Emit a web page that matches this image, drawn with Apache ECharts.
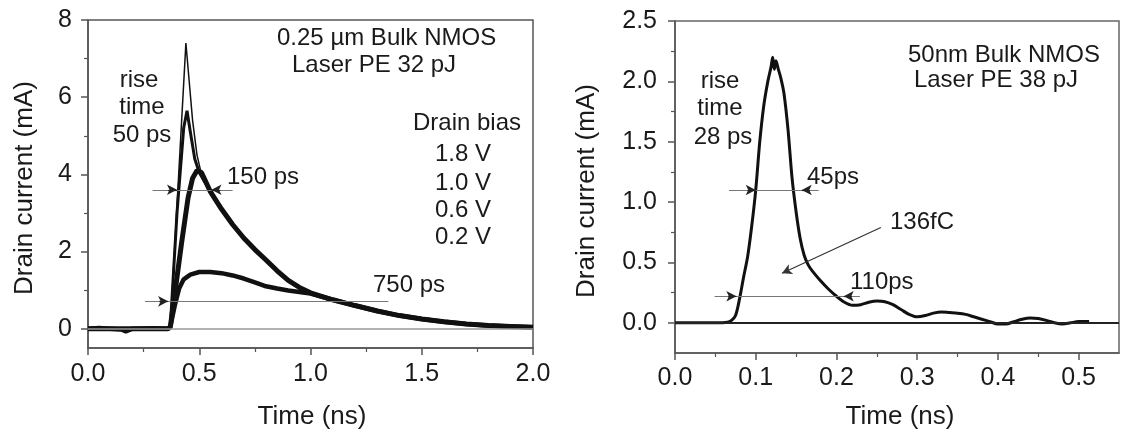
<!DOCTYPE html>
<html><head><meta charset="utf-8">
<script src="https://cdn.jsdelivr.net/npm/echarts@6/dist/echarts.min.js"></script>
<style>html,body{margin:0;padding:0;background:#fff}#c{width:1122px;height:436px}</style>
</head><body><div id="c"></div>
<script>
// ---------- Left panel data (0.25 um bulk NMOS), time in ns, current in mA ----------
const leftT18 = [0, 0.1, 0.17, 0.25, 0.36, 0.37, 0.40, 0.44, 0.455, 0.47, 0.49, 0.51];
const leftI18 = [0, 0.01, -0.05, 0.01, 0, 0.05, 3.2, 7.4, 6.4, 5.4, 4.5, 4.0];
const leftT10 = [0, 0.36, 0.37, 0.40, 0.43, 0.445, 0.46, 0.48, 0.50, 0.52];
const leftI10 = [0, 0, 0.05, 3.0, 5.2, 5.65, 5.1, 4.4, 4.05, 3.85];
const leftT06 = [0, 0.36, 0.37, 0.39, 0.42, 0.45, 0.47, 0.49, 0.51, 0.53];
const leftI06 = [0, 0, 0.05, 0.9, 2.2, 3.4, 3.9, 4.1, 4.05, 3.8];
const leftT02 = [0, 0.05, 0.15, 0.17, 0.2, 0.3, 0.36, 0.37, 0.39, 0.41, 0.43, 0.46, 0.5, 0.55, 0.6, 0.65, 0.7, 0.75, 0.8, 0.85, 0.9, 0.95, 1.0];
const leftI02 = [0, 0.02, -0.02, -0.07, 0, 0.01, 0, 0.05, 0.6, 1.05, 1.28, 1.4, 1.47, 1.47, 1.44, 1.38, 1.3, 1.2, 1.1, 1.04, 0.99, 0.95, 0.91];
// common decay of the 1.8 / 1.0 / 0.6 V traces
const decayT = [0.55, 0.6, 0.65, 0.7, 0.75, 0.8, 0.85, 0.9, 0.95, 1.0, 1.1, 1.2, 1.3, 1.4, 1.5, 1.6, 1.7, 1.8, 1.9, 2.0];
const decayI = [3.55, 3.1, 2.7, 2.35, 2.05, 1.78, 1.5, 1.25, 1.07, 0.93, 0.75, 0.6, 0.46, 0.34, 0.25, 0.18, 0.12, 0.08, 0.06, 0.04];

// ---------- Right panel data (50 nm bulk NMOS) ----------
const rightT = [0, 0.05, 0.065, 0.07, 0.075, 0.08, 0.085, 0.09, 0.095, 0.1, 0.105, 0.11, 0.115, 0.119, 0.121, 0.123, 0.125, 0.128, 0.131, 0.135, 0.14, 0.145, 0.15, 0.155, 0.16, 0.165, 0.17, 0.18, 0.19, 0.2, 0.21, 0.22, 0.23, 0.24, 0.25, 0.26, 0.27, 0.28, 0.29, 0.3, 0.31, 0.32, 0.33, 0.34, 0.35, 0.36, 0.37, 0.38, 0.39, 0.4, 0.41, 0.42, 0.43, 0.44, 0.45, 0.46, 0.47, 0.48, 0.49, 0.5, 0.513];
const rightI = [0, 0, 0.005, 0.02, 0.06, 0.2, 0.38, 0.55, 0.8, 1.1, 1.5, 1.8, 2.0, 2.12, 2.2, 2.1, 2.17, 2.1, 2.03, 1.9, 1.6, 1.2, 0.92, 0.7, 0.56, 0.48, 0.43, 0.35, 0.28, 0.22, 0.17, 0.145, 0.15, 0.17, 0.18, 0.175, 0.15, 0.11, 0.07, 0.05, 0.06, 0.08, 0.09, 0.085, 0.08, 0.07, 0.05, 0.03, 0.01, -0.01, -0.01, 0.01, 0.03, 0.04, 0.035, 0.02, 0.0, -0.01, 0.0, 0.01, 0.01];

// ---------- Ticks ----------
const leftXTicks = [0, 0.5, 1, 1.5, 2];
const leftXMinor = [0.25, 0.75, 1.25, 1.75];
const leftYTicks = [0, 2, 4, 6, 8];
const leftYMinor = [1, 3, 5, 7];
const rightXTicks = [0, 0.1, 0.2, 0.3, 0.4, 0.5];
const rightXMinor = [0.05, 0.15, 0.25, 0.35, 0.45];
const rightYTicks = [0, 0.5, 1.0, 1.5, 2.0, 2.5];
const rightYMinor = [0.25, 0.75, 1.25, 1.75, 2.25];

// ---------- Annotation values (data space) ----------
const ann150 = { y: 3.6, from: 0.29, to: 0.65, tipA: 0.40, tipB: 0.555 };
const ann750 = { y: 0.71, from: 0.256, to: 1.35, tipA: 0.36 };
const ann45 = { y: 1.1, from: 0.067, to: 0.178, tipA: 0.1, tipB: 0.157 };
const ann110 = { y: 0.22, from: 0.049, to: 0.229, tipA: 0.076, tipB: 0.209 };
const arrow136 = { from: [0.255, 0.79], to: [0.1325, 0.41] };

const FONT = '"Liberation Sans", Arial, sans-serif';
const INK = '#111';
const AX = '#555';
const TXT = '#1a1a1a';

function pairs(t, v) { return t.map((x, k) => [x, v[k]]); }

function guideLines(a) {
  return [[{ coord: [a.from, a.y] }, { coord: [a.to, a.y] }]];
}
function arrowHeads(a, len) {
  const out = [[{ coord: [a.tipA - len, a.y], symbol: 'none' }, { coord: [a.tipA, a.y], symbol: 'arrow' }]];
  if (a.tipB !== undefined) out.push([{ coord: [a.tipB + len, a.y], symbol: 'none' }, { coord: [a.tipB, a.y], symbol: 'arrow' }]);
  return out;
}

function helper(xi, yi, lines, color, width, withArrows) {
  return {
    type: 'line', data: [], xAxisIndex: xi, yAxisIndex: yi, silent: true,
    markLine: {
      silent: true, animation: false,
      symbol: withArrows ? ['none', 'arrow'] : ['none', 'none'],
      symbolSize: [8, 10],
      label: { show: false },
      emphasis: { disabled: true },
      lineStyle: { color: color, width: width, type: 'solid' },
      data: lines
    }
  };
}

function majorX(grid, min, max, ticks, margin) {
  return {
    type: 'value', gridIndex: grid, min: min, max: max, position: 'bottom',
    axisLine: { show: true, onZero: false, lineStyle: { color: AX, width: 1.5 } },
    axisTick: { show: true, length: 7, customValues: ticks, lineStyle: { color: AX, width: 1.5 } },
    axisLabel: { customValues: ticks, margin: margin, fontFamily: FONT, fontSize: 25, color: TXT, formatter: v => v.toFixed(1) },
    splitLine: { show: false }
  };
}
function minorX(grid, min, max, ticks) {
  return {
    type: 'value', gridIndex: grid, min: min, max: max, position: 'bottom',
    axisLine: { show: false, onZero: false },
    axisTick: { show: true, length: 4, customValues: ticks, lineStyle: { color: AX, width: 1.2 } },
    axisLabel: { show: false }, splitLine: { show: false }
  };
}
function majorY(grid, min, max, ticks, margin, fmt) {
  return {
    type: 'value', gridIndex: grid, min: min, max: max, position: 'left',
    axisLine: { show: true, onZero: false, lineStyle: { color: AX, width: 1.5 } },
    axisTick: { show: true, length: 7, customValues: ticks, lineStyle: { color: AX, width: 1.5 } },
    axisLabel: { customValues: ticks, margin: margin, fontFamily: FONT, fontSize: 25, color: TXT, formatter: fmt },
    splitLine: { show: false }
  };
}
function minorY(grid, min, max, ticks) {
  return {
    type: 'value', gridIndex: grid, min: min, max: max, position: 'left',
    axisLine: { show: false, onZero: false },
    axisTick: { show: true, length: 4, customValues: ticks, lineStyle: { color: AX, width: 1.2 } },
    axisLabel: { show: false }, splitLine: { show: false }
  };
}

function txt(text, x, y, align, size, extra) {
  return Object.assign({
    type: 'text', x: x, y: y, silent: true,
    style: { text: text, font: (size || 24) + 'px ' + FONT, fill: TXT, align: align || 'left', verticalAlign: 'middle' }
  }, extra || {});
}

function line(data, width) {
  return { type: 'line', data: data, xAxisIndex: 0, yAxisIndex: 0, showSymbol: false, silent: true,
    lineStyle: { color: INK, width: width }, itemStyle: { color: INK }, z: 3 };
}

const chart = echarts.init(document.getElementById('c'), null, { renderer: 'canvas' });
chart.setOption({
  animation: false,
  backgroundColor: '#fff',
  grid: [
    { left: 88, top: 20, width: 445, height: 328, show: true, borderColor: AX, borderWidth: 1.5, backgroundColor: 'transparent' },
    { left: 675, top: 21, width: 444, height: 332, show: true, borderColor: '#666', borderWidth: 1.5, backgroundColor: 'transparent' }
  ],
  xAxis: [
    majorX(0, 0, 2, leftXTicks, 14),
    minorX(0, 0, 2, leftXMinor),
    majorX(1, 0, 0.55, rightXTicks, 13),
    minorX(1, 0, 0.55, rightXMinor)
  ],
  yAxis: [
    majorY(0, -0.5, 8, leftYTicks, 16, v => String(v)),
    minorY(0, -0.5, 8, leftYMinor),
    majorY(1, -0.25, 2.5, rightYTicks, 18, v => v.toFixed(1)),
    minorY(1, -0.25, 2.5, rightYMinor)
  ],
  series: [
    // zero reference lines
    helper(0, 0, [[{ coord: [0, 0] }, { coord: [2, 0] }]], '#999', 1.5, false),
    helper(2, 2, [[{ coord: [0, 0] }, { coord: [0.55, 0] }]], '#222', 1.8, false),
    // left traces
    line(pairs(leftT02.concat(decayT.slice(10)), leftI02.concat(decayI.slice(10))), 4.5),
    line(pairs(leftT06.concat(decayT), leftI06.concat(decayI)), 5),
    line(pairs(leftT10.concat(decayT), leftI10.concat(decayI)), 3),
    line(pairs(leftT18.concat(decayT), leftI18.concat(decayI)), 1.5),
    // right trace
    { type: 'line', data: pairs(rightT, rightI), xAxisIndex: 2, yAxisIndex: 2, showSymbol: false, silent: true,
      smooth: 0.3, lineStyle: { color: INK, width: 3 }, z: 3 },
    // annotation guide lines
    helper(0, 0, guideLines(ann150).concat(guideLines(ann750)), '#777', 1.2, false),
    helper(0, 0, arrowHeads(ann150, 0.04).concat(arrowHeads(ann750, 0.04)), '#222', 1.2, true),
    helper(2, 2, guideLines(ann45).concat(guideLines(ann110)), '#777', 1.2, false),
    helper(2, 2, arrowHeads(ann45, 0.01).concat(arrowHeads(ann110, 0.01)), '#222', 1.2, true),
    helper(2, 2, [[{ coord: arrow136.from, symbol: 'none' }, { coord: arrow136.to, symbol: 'arrow' }]], '#333', 1.2, true)
  ],
  graphic: [
    // left panel texts
    txt('0.25 µm Bulk NMOS', 277, 38),
    txt('Laser PE 32 pJ', 292, 65),
    txt('rise', 139, 80, 'center'),
    txt('time', 142, 107, 'center'),
    txt('50 ps', 142, 135, 'center'),
    txt('Drain bias', 413, 123),
    txt('1.8 V', 435, 154),
    txt('1.0 V', 435, 183),
    txt('0.6 V', 435, 210),
    txt('0.2 V', 435, 237),
    txt('150 ps', 227, 177),
    txt('750 ps', 373, 285),
    txt('Drain current (mA)', 25, 188, 'center', 26, { rotation: Math.PI / 2 }),
    txt('Time (ns)', 312, 417, 'center', 26),
    // right panel texts
    txt('50nm Bulk NMOS', 1100, 55, 'right'),
    txt('Laser PE 38 pJ', 1078, 80, 'right'),
    txt('rise', 720, 81, 'center'),
    txt('time', 720, 108, 'center'),
    txt('28 ps', 723, 137, 'center'),
    txt('45ps', 807, 177),
    txt('136fC', 890, 222),
    txt('110ps', 850, 282),
    txt('Drain current (mA)', 587, 191, 'center', 26, { rotation: Math.PI / 2 }),
    txt('Time (ns)', 900, 417, 'center', 26)
  ]
});
</script></body></html>
